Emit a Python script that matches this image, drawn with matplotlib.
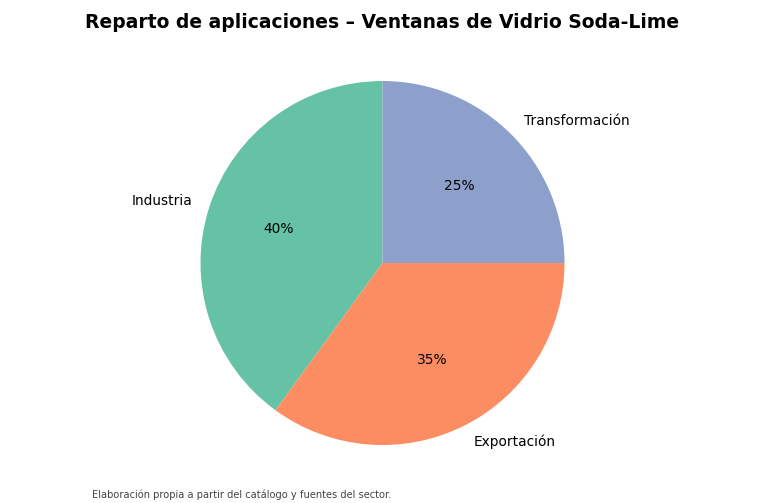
import matplotlib.pyplot as plt

labels = ['Industria', 'Exportación', 'Transformación']
values = [40, 35, 25]
colors = ['#66c2a5', '#fc8d62', '#8da0cb']

fig = plt.figure(figsize=(7.65, 5.03), dpi=100)
ax = fig.add_axes([0.0, 0.0248, 1.0, 0.9046])

ax.pie(
    values,
    labels=labels,
    colors=colors,
    autopct='%1.0f%%',
    startangle=90,
    textprops={'fontsize': 9.9},
)
ax.set_aspect('equal')
ax.set_ylim(-1.25, 1.25)
ax.set_xlim(-1.25 * 765 / (0.9046 * 503), 1.25 * 765 / (0.9046 * 503))

fig.text(0.5, 0.956, 'Reparto de aplicaciones – Ventanas de Vidrio Soda-Lime',
         ha='center', va='center', fontsize=13.5, fontweight='bold')
fig.text(0.12, 0.016, 'Elaboración propia a partir del catálogo y fuentes del sector.',
         ha='left', va='center', fontsize=7.15, color='#444444')

plt.savefig('out.png', dpi=100)
